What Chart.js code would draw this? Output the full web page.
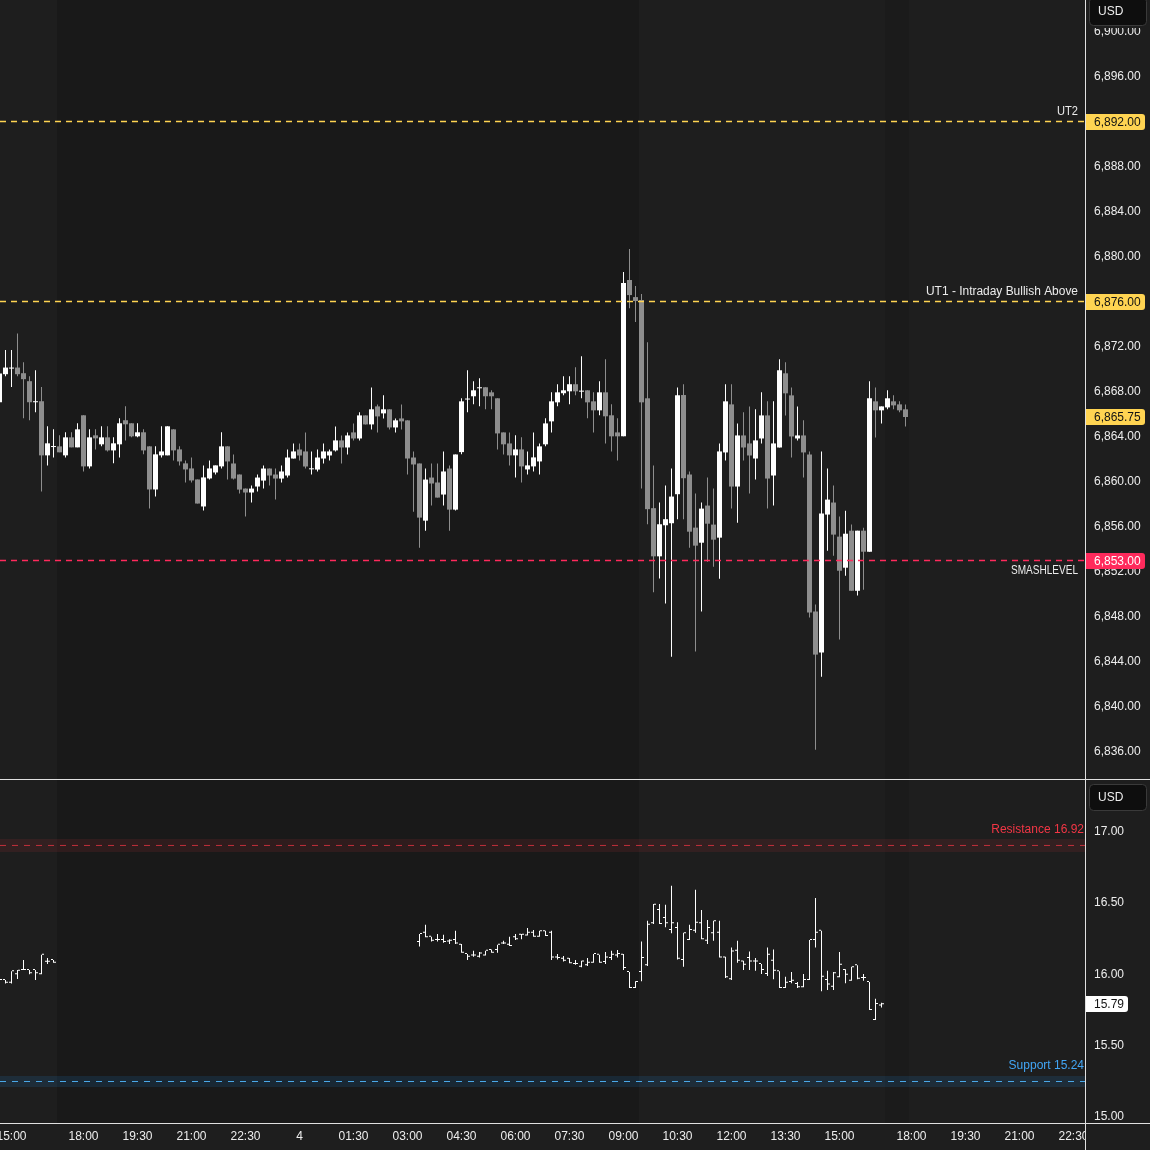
<!DOCTYPE html>
<html>
<head>
<meta charset="utf-8">
<title>ES 10m / VIX</title>
<script src="https://cdn.jsdelivr.net/npm/chart.js@4.4.1/dist/chart.umd.min.js"></script>
<style>
  html, body { margin:0; padding:0; background:#191919; overflow:hidden; }
  #wrap { position:relative; width:1150px; height:1150px; }
  canvas { position:absolute; left:0; display:block; }
  #priceCanvas { top:0; }
  #vixCanvas { top:779px; }
</style>
</head>
<body>
<div id="wrap">
  <canvas id="priceCanvas" width="1150" height="779"></canvas>
  <canvas id="vixCanvas" width="1150" height="371"></canvas>
</div>
<script>
// ======================= DATA =======================
// 10-minute bars. Slot 0 = 15:00 (day 3); the 17:00-18:00 halt is skipped.
const esStartSlot = -2;
const esOpen = [
  6867.06, 6869.55, 6870.05, 6870.14, 6869.64, 6868.93, 6867.06, 6867.15, 6862.34, 6863.08,
  6863.14, 6862.34, 6863.94, 6863.05, 6865.90, 6861.36, 6864.12, 6863.32, 6863.94, 6862.78,
  6863.32, 6865.46, 6865.19, 6864.03, 6864.39, 6863.14, 6859.31, 6862.34, 6862.34, 6864.65,
  6862.87, 6861.63, 6861.18, 6860.20, 6857.80, 6860.29, 6860.82, 6861.36, 6863.14, 6861.62,
  6860.64, 6859.39, 6859.04, 6859.57, 6860.10, 6861.17, 6860.64, 6860.28, 6860.55, 6862.06,
  6862.86, 6862.69, 6861.10, 6861.08, 6862.06, 6862.33, 6862.78, 6863.67, 6863.04, 6864.38,
  6863.84, 6865.89, 6865.09, 6866.69, 6866.07, 6866.43, 6864.82, 6865.62, 6865.45, 6862.15,
  6861.62, 6856.54, 6860.37, 6859.93, 6858.86, 6861.17, 6857.52, 6862.63, 6867.30, 6867.59,
  6868.30, 6868.39, 6867.94, 6867.41, 6864.38, 6863.40, 6862.34, 6862.87, 6861.09, 6861.36,
  6861.80, 6863.32, 6865.36, 6867.05, 6867.86, 6868.03, 6868.66, 6868.00, 6868.12, 6867.14,
  6866.34, 6867.94, 6865.90, 6864.38, 6864.03, 6877.92, 6876.40, 6876.14, 6867.41, 6857.65,
  6853.37, 6856.13, 6856.31, 6858.89, 6867.70, 6860.64, 6855.92, 6854.58, 6857.88, 6856.19,
  6855.03, 6862.60, 6866.87, 6859.57, 6864.11, 6863.40, 6862.06, 6863.84, 6865.89, 6860.55,
  6863.04, 6869.63, 6867.67, 6863.84, 6864.11, 6862.42, 6848.47, 6844.82, 6857.08, 6858.15,
  6855.12, 6852.36, 6855.65, 6850.31, 6855.65, 6853.78, 6867.14, 6866.34, 6866.60, 6867.14,
  6866.87, 6866.43
];
const esHigh = [
  6870.50, 6871.69, 6871.69, 6873.17, 6870.62, 6869.37, 6869.91, 6868.42, 6864.92, 6864.65,
  6864.12, 6864.39, 6864.39, 6865.19, 6865.90, 6864.65, 6864.65, 6864.92, 6864.92, 6863.94,
  6865.63, 6866.70, 6865.19, 6865.19, 6864.65, 6863.14, 6863.14, 6864.92, 6864.92, 6864.65,
  6863.14, 6861.89, 6862.16, 6860.20, 6861.45, 6861.89, 6861.45, 6864.39, 6863.14, 6862.42,
  6860.64, 6859.39, 6859.66, 6860.64, 6861.44, 6861.17, 6861.17, 6861.44, 6862.86, 6863.40,
  6863.40, 6864.38, 6862.69, 6862.86, 6863.40, 6862.86, 6864.91, 6864.11, 6864.38, 6865.18,
  6866.16, 6865.89, 6868.38, 6866.87, 6867.67, 6866.43, 6865.62, 6866.87, 6865.45, 6862.69,
  6861.62, 6861.17, 6861.62, 6861.62, 6862.69, 6861.44, 6862.42, 6867.41, 6869.90, 6868.92,
  6869.19, 6868.39, 6868.12, 6867.41, 6864.38, 6864.38, 6864.12, 6863.94, 6862.69, 6864.38,
  6863.40, 6865.63, 6867.94, 6868.66, 6869.37, 6869.37, 6870.17, 6871.15, 6868.12, 6867.94,
  6868.92, 6870.88, 6866.88, 6865.63, 6878.63, 6880.68, 6877.38, 6876.67, 6872.40, 6861.45,
  6858.15, 6859.66, 6861.18, 6868.38, 6868.65, 6860.91, 6858.95, 6858.15, 6860.37, 6859.39,
  6863.40, 6868.65, 6868.65, 6865.18, 6866.16, 6866.69, 6866.43, 6867.94, 6867.14, 6867.14,
  6870.88, 6870.61, 6868.38, 6866.69, 6865.45, 6862.69, 6849.09, 6862.69, 6861.17, 6859.66,
  6856.90, 6857.43, 6856.19, 6855.65, 6855.92, 6868.92, 6868.38, 6866.69, 6868.12, 6867.67,
  6867.14, 6866.87
];
const esLow = [
  6866.50, 6869.37, 6868.42, 6869.37, 6865.63, 6865.46, 6866.17, 6859.13, 6861.45, 6862.16,
  6862.61, 6862.16, 6863.05, 6863.05, 6860.91, 6861.18, 6862.87, 6863.14, 6862.69, 6861.63,
  6862.16, 6863.67, 6863.94, 6863.94, 6862.43, 6857.62, 6858.69, 6862.16, 6862.34, 6861.89,
  6861.45, 6859.93, 6859.93, 6858.06, 6857.44, 6860.20, 6860.65, 6861.18, 6860.20, 6860.19,
  6858.95, 6856.90, 6858.15, 6859.13, 6859.39, 6859.66, 6858.41, 6859.93, 6860.37, 6862.06,
  6861.88, 6861.17, 6860.64, 6860.91, 6861.62, 6861.88, 6862.69, 6861.62, 6862.42, 6863.67,
  6863.67, 6865.09, 6864.64, 6864.38, 6865.62, 6864.64, 6864.38, 6864.64, 6860.64, 6857.34,
  6854.14, 6855.65, 6857.88, 6858.59, 6857.88, 6855.65, 6857.45, 6862.45, 6866.16, 6866.88,
  6866.70, 6866.43, 6866.43, 6862.87, 6862.42, 6861.45, 6860.38, 6859.93, 6860.64, 6860.91,
  6860.64, 6863.14, 6864.38, 6866.70, 6867.68, 6866.88, 6867.68, 6867.41, 6865.63, 6864.38,
  6865.90, 6863.40, 6862.69, 6861.89, 6864.03, 6875.42, 6874.18, 6859.40, 6856.22, 6850.17,
  6851.41, 6849.19, 6844.44, 6856.66, 6856.66, 6854.14, 6844.91, 6848.47, 6852.89, 6852.45,
  6851.38, 6861.88, 6857.61, 6856.36, 6861.88, 6858.95, 6860.19, 6863.40, 6857.61, 6857.88,
  6863.04, 6865.89, 6862.15, 6863.67, 6860.37, 6847.93, 6836.18, 6842.68, 6853.87, 6853.43,
  6845.98, 6851.65, 6850.31, 6849.89, 6850.40, 6853.78, 6863.93, 6865.18, 6866.43, 6866.43,
  6866.16, 6864.91
];
const esClose = [
  6869.61, 6870.14, 6870.14, 6869.55, 6869.11, 6867.06, 6867.10, 6862.34, 6863.41, 6863.11,
  6862.61, 6863.94, 6863.05, 6864.65, 6861.36, 6863.94, 6863.85, 6863.94, 6862.78, 6863.41,
  6865.19, 6865.10, 6864.03, 6864.39, 6862.78, 6859.31, 6862.43, 6862.69, 6864.92, 6862.78,
  6861.80, 6861.09, 6860.11, 6858.06, 6860.38, 6861.18, 6861.45, 6863.14, 6861.80, 6860.28,
  6859.30, 6859.04, 6859.39, 6860.37, 6861.17, 6860.55, 6860.28, 6860.91, 6862.15, 6862.69,
  6862.33, 6861.35, 6861.14, 6862.15, 6862.69, 6862.69, 6863.67, 6863.04, 6864.11, 6863.84,
  6865.89, 6865.09, 6866.43, 6865.80, 6866.43, 6864.82, 6865.45, 6865.36, 6862.06, 6861.53,
  6856.81, 6860.19, 6859.84, 6858.59, 6860.91, 6857.52, 6862.42, 6867.14, 6867.38, 6868.12,
  6868.39, 6867.59, 6867.59, 6864.29, 6863.32, 6862.34, 6862.87, 6861.36, 6861.45, 6862.16,
  6863.14, 6865.18, 6867.14, 6867.94, 6868.12, 6868.66, 6868.03, 6868.09, 6867.05, 6866.34,
  6867.94, 6865.81, 6864.03, 6864.03, 6877.65, 6876.58, 6876.05, 6867.05, 6857.56, 6853.37,
  6856.22, 6856.67, 6858.68, 6867.68, 6860.31, 6855.56, 6854.32, 6857.61, 6856.27, 6854.85,
  6862.69, 6867.14, 6859.57, 6864.11, 6863.04, 6862.33, 6863.67, 6865.89, 6860.28, 6863.40,
  6869.90, 6867.85, 6864.02, 6864.11, 6862.60, 6848.38, 6844.64, 6857.17, 6858.41, 6855.30,
  6852.09, 6855.38, 6850.31, 6855.65, 6853.78, 6867.41, 6866.34, 6866.69, 6867.41, 6866.78,
  6866.34, 6865.75
];

// VIX-style index, two trading sessions
const vixEveningStart = -2;
const vixEveningOpen  = [15.95, 15.96, 15.94, 16.00, 16.03, 16.03, 16.03, 16.00, 16.088, 16.099];
const vixEveningHigh  = [15.96, 15.96, 16.02, 16.03, 16.10, 16.03, 16.03, 16.137, 16.113, 16.099];
const vixEveningLow   = [15.94, 15.935, 15.935, 15.966, 16.03, 16.00, 15.96, 16.00, 16.071, 16.08];
const vixEveningClose = [15.96, 15.94, 16.02, 16.025, 16.03, 16.006, 16.006, 16.137, 16.088, 16.08];

const vixNightStart = 68;
const vixNightOpen = [
  16.226, 16.291, 16.263, 16.240, 16.240, 16.230, 16.240, 16.207, 16.142, 16.132,
  16.123, 16.132, 16.170, 16.170, 16.216, 16.207, 16.259, 16.277, 16.272, 16.291,
  16.263, 16.301, 16.291, 16.118, 16.109, 16.109, 16.071, 16.053, 16.062, 16.081,
  16.137, 16.085, 16.114, 16.132, 16.137, 16.015, 15.903, 16.015, 16.062, 16.357,
  16.450, 16.394, 16.310, 16.324, 16.100, 16.240, 16.305, 16.357, 16.235, 16.287,
  16.291, 16.118, 15.964, 16.165, 16.090, 16.114, 16.090, 16.071, 16.001, 16.095,
  16.020, 15.903, 15.945, 15.931, 15.908, 15.959, 16.240, 16.305, 15.959, 15.912,
  15.978, 16.029, 15.954, 16.062, 15.973, 15.945, 15.678, 15.781
];
const vixNightHigh = [
  16.282, 16.347, 16.263, 16.282, 16.277, 16.245, 16.305, 16.212, 16.142, 16.165,
  16.156, 16.165, 16.174, 16.207, 16.235, 16.263, 16.282, 16.282, 16.324, 16.310,
  16.305, 16.305, 16.305, 16.142, 16.128, 16.114, 16.100, 16.095, 16.114, 16.142,
  16.137, 16.156, 16.165, 16.170, 16.142, 16.015, 15.950, 16.230, 16.375, 16.492,
  16.492, 16.488, 16.621, 16.364, 16.291, 16.347, 16.593, 16.450, 16.380, 16.375,
  16.375, 16.123, 16.188, 16.235, 16.095, 16.160, 16.114, 16.071, 16.188, 16.174,
  16.020, 15.982, 16.015, 15.945, 16.001, 16.240, 16.535, 16.305, 16.025, 16.015,
  16.156, 16.034, 16.053, 16.062, 16.001, 15.945, 15.828, 15.800
];
const vixNightLow = [
  16.195, 16.259, 16.230, 16.230, 16.221, 16.212, 16.212, 16.151, 16.100, 16.123,
  16.118, 16.132, 16.151, 16.151, 16.212, 16.198, 16.240, 16.245, 16.272, 16.263,
  16.263, 16.268, 16.100, 16.104, 16.090, 16.076, 16.067, 16.048, 16.057, 16.081,
  16.081, 16.071, 16.100, 16.118, 16.029, 15.903, 15.903, 15.950, 16.057, 16.352,
  16.352, 16.329, 16.287, 16.104, 16.053, 16.240, 16.291, 16.245, 16.212, 16.235,
  16.118, 15.973, 15.959, 16.081, 16.029, 16.029, 16.025, 16.001, 15.987, 15.964,
  15.903, 15.903, 15.936, 15.903, 15.908, 15.959, 16.188, 15.880, 15.889, 15.889,
  15.978, 15.936, 15.954, 15.964, 15.954, 15.749, 15.678, 15.767
];
const vixNightClose = [
  16.282, 16.259, 16.235, 16.240, 16.226, 16.235, 16.216, 16.151, 16.123, 16.132,
  16.146, 16.165, 16.151, 16.207, 16.216, 16.198, 16.245, 16.277, 16.291, 16.263,
  16.301, 16.268, 16.118, 16.114, 16.095, 16.076, 16.071, 16.090, 16.081, 16.142,
  16.081, 16.118, 16.137, 16.142, 16.043, 15.903, 15.945, 16.114, 16.347, 16.488,
  16.352, 16.357, 16.357, 16.109, 16.287, 16.310, 16.361, 16.245, 16.324, 16.371,
  16.118, 15.978, 16.160, 16.095, 16.067, 16.090, 16.090, 16.029, 16.137, 16.025,
  15.903, 15.940, 15.954, 15.908, 15.959, 16.240, 16.291, 15.982, 15.927, 16.006,
  16.067, 15.997, 16.048, 15.968, 15.973, 15.749, 15.791, 15.790
];

// Axis ticks
const timeTickSlots  = [0, 12, 21, 30, 39, 48, 57, 66, 75, 84, 93, 102, 111, 120, 129, 138, 150, 159, 168, 177];
const timeTickLabels = ['15:00','18:00','19:30','21:00','22:30','4','01:30','03:00','04:30','06:00','07:30','09:00','10:30','12:00','13:30','15:00','18:00','19:30','21:00','22:30'];
const priceTicks = [6836, 6840, 6844, 6848, 6852, 6856, 6860, 6864, 6868, 6872, 6876, 6880, 6884, 6888, 6892, 6896, 6900];
const vixTicks = [15.0, 15.5, 16.0, 16.5, 17.0];

// Levels
const esLevelValues = [6892, 6876, 6853];
const esLevelNames  = ['UT2', 'UT1 - Intraday Bullish Above', 'SMASHLEVEL'];
const esLastPrice = 6865.75;
const vixLast = 15.79;
const vixResistance = 16.92;
const vixResistanceZone = [16.861, 16.946];
const vixSupport = 15.24;
const vixSupportZone = [15.207, 15.287];

// Session edges (slot units): prior RTH | ETH | RTH | post | future
const sessionEdges = [7.5, 104.5, 145.5, 149.5];
const sessionKinds = ['rth', 'eth', 'rth', 'post', 'future'];

// ======================= STYLE =======================
const FONT = '"Liberation Sans", Arial, sans-serif';
Chart.defaults.font.family = FONT;
Chart.defaults.font.size = 12;
const COL = {
  eth: '#191919', rth: '#1e1e1e', post: '#1b1b1b', future: '#1e1e1e',
  axisBg: '#1e1e1e', tick: '#ededed', frame: '#e0e0e0',
  up: '#ffffff', down: '#8e8e8e', ohlc: '#ffffff',
  yellow: '#ffd452', red: '#ff2a5c', levelText: '#ececec', boxText: '#131313',
  resText: '#f23645', resLine: 'rgba(242,54,69,0.75)', resBand: 'rgba(242,54,69,0.10)',
  supText: '#42a5f5', supLine: '#4aa8e8', supBand: 'rgba(33,150,243,0.13)',
  usdBg: '#0e0e0e', usdBorder: '#3a3a3a'
};
const levelColors = [COL.yellow, COL.yellow, COL.red];
const levelTextMaxWidth = [21, 152, 67];
const X_MIN = -11.5 / 6, X_MAX = (1085 - 11.5) / 6;
const PRICE_MIN = 6833.589, PRICE_MAX = 6902.794;
const VIX_MIN = 14.9558, VIX_MAX = 17.3628;
const AXIS_X = 1085, AXIS_W = 65;

// ======================= HELPERS =======================
const fmtPrice = v => v.toLocaleString('en-US', {minimumFractionDigits: 2, maximumFractionDigits: 2});
const fmtVix = v => v.toFixed(2);

function hLine(v, color, dash, width) {
  return {type: 'line', data: [{x: X_MIN, y: v}, {x: X_MAX, y: v}], borderColor: color,
          borderWidth: width, borderDash: dash, pointRadius: 0, fill: false, tension: 0, order: 0};
}

function paintSessions(chart) {
  const {ctx, chartArea: a, scales: {x}} = chart;
  const edges = [X_MIN, ...sessionEdges, X_MAX];
  for (let i = 0; i < sessionKinds.length; i++) {
    const x0 = Math.round(x.getPixelForValue(edges[i]));
    const x1 = Math.round(x.getPixelForValue(edges[i + 1]));
    ctx.fillStyle = COL[sessionKinds[i]];
    ctx.fillRect(x0, a.top, x1 - x0, a.bottom - a.top);
  }
}

function axisBox(ctx, py, text, bg, fg, w) {
  py = Math.round(py);
  ctx.fillStyle = bg;
  ctx.beginPath();
  ctx.roundRect(AXIS_X, py - 8, w, 16, [0, 3, 3, 0]);
  ctx.fill();
  ctx.fillStyle = fg;
  ctx.textAlign = 'left';
  ctx.textBaseline = 'middle';
  ctx.fillText(text, 1094, py + 0.5);
}

function usdBox(ctx, top, h) {
  ctx.fillStyle = COL.usdBg;
  ctx.strokeStyle = COL.usdBorder;
  ctx.lineWidth = 1;
  ctx.beginPath();
  ctx.roundRect(1089.5, top + 0.5, 57, h, 4);
  ctx.fill();
  ctx.stroke();
  ctx.fillStyle = COL.tick;
  ctx.textAlign = 'left';
  ctx.textBaseline = 'middle';
  ctx.font = '12px ' + FONT;
  ctx.fillText('USD', 1098, top + h / 2 + 1);
}

function baseOptions(yMin, yMax, yTicks, fmt, showX) {
  return {
    animation: false, responsive: false, maintainAspectRatio: false, devicePixelRatio: 1, events: [],
    layout: {padding: {top: showX ? 1 : 0, left: 0, right: 0, bottom: 0}},
    plugins: {legend: {display: false}, tooltip: {enabled: false}},
    scales: {
      x: {
        type: 'linear', min: X_MIN, max: X_MAX, offset: false, display: showX,
        grid: {display: false, drawTicks: false}, border: {display: false},
        afterBuildTicks: s => { s.ticks = timeTickSlots.map(v => ({value: v})); },
        afterFit: s => { s.height = showX ? 27 : 0; s.paddingLeft = 0; s.paddingRight = 0; },
        ticks: {autoSkip: false, maxRotation: 0, minRotation: 0, padding: 6, color: COL.tick,
                font: {size: 12}, callback: (v, i) => timeTickLabels[i]}
      },
      y: {
        type: 'linear', position: 'right', min: yMin, max: yMax,
        grid: {display: false, drawTicks: false}, border: {display: false},
        afterBuildTicks: s => { s.ticks = yTicks.map(v => ({value: v})); },
        afterFit: s => { s.width = AXIS_W; s.paddingTop = 0; s.paddingBottom = 0; },
        ticks: {padding: 9, color: COL.tick, font: {size: 12}, callback: v => fmt(v)}
      }
    }
  };
}

// ======================= PRICE PANE =======================
const esSlots = esOpen.map((_, i) => esStartSlot + i);
const esColors = esOpen.map((o, i) => esClose[i] >= o ? COL.up : COL.down);

const pricePlugin = {
  id: 'pricePane',
  beforeDraw(chart) {
    const {ctx} = chart;
    ctx.save();
    ctx.fillStyle = COL.axisBg;
    ctx.fillRect(0, 0, chart.width, chart.height);
    paintSessions(chart);
    ctx.restore();
  },
  afterDraw(chart) {
    const {ctx, scales: {y}} = chart;
    ctx.save();
    ctx.font = '12px ' + FONT;
    ctx.textBaseline = 'middle';
    ctx.textAlign = 'right';
    ctx.fillStyle = COL.levelText;
    esLevelValues.forEach((v, i) => {
      const py = y.getPixelForValue(v);
      ctx.fillText(esLevelNames[i], 1078, py + (i === 2 ? 10 : -10), levelTextMaxWidth[i]);
    });
    axisBox(ctx, y.getPixelForValue(esLevelValues[0]), fmtPrice(esLevelValues[0]), COL.yellow, COL.boxText, 60);
    axisBox(ctx, y.getPixelForValue(esLevelValues[1]), fmtPrice(esLevelValues[1]), COL.yellow, COL.boxText, 60);
    axisBox(ctx, y.getPixelForValue(esLevelValues[2]), fmtPrice(esLevelValues[2]), COL.red, '#ffffff', 60);
    axisBox(ctx, y.getPixelForValue(esLastPrice), fmtPrice(esLastPrice), COL.yellow, COL.boxText, 60);
    ctx.fillStyle = COL.axisBg;
    ctx.fillRect(AXIS_X + 1, 0, AXIS_W, 28);
    usdBox(ctx, -3, 28);
    ctx.fillStyle = COL.frame;
    ctx.fillRect(AXIS_X, 0, 1, chart.height);
    ctx.restore();
  }
};

new Chart(document.getElementById('priceCanvas'), {
  type: 'bar',
  data: {
    datasets: [
      ...esLevelValues.map((v, i) => hLine(v, levelColors[i], [6, 5], 1.5)),
      {type: 'bar', data: esSlots.map((s, i) => ({x: s, y: [Math.min(esOpen[i], esClose[i]), Math.max(esOpen[i], esClose[i])]})),
       backgroundColor: esColors, barThickness: 5, minBarLength: 1, grouped: false, inflateAmount: 0, borderWidth: 0, order: 1},
      {type: 'bar', data: esSlots.map((s, i) => ({x: s, y: [esLow[i], esHigh[i]]})),
       backgroundColor: esColors, barThickness: 1, minBarLength: 1, grouped: false, inflateAmount: 0, borderWidth: 0, order: 2}
    ]
  },
  options: baseOptions(PRICE_MIN, PRICE_MAX, priceTicks, fmtPrice, false),
  plugins: [pricePlugin]
});

// ======================= VIX PANE =======================
const vixSessions = [
  {start: vixEveningStart, o: vixEveningOpen, h: vixEveningHigh, l: vixEveningLow, c: vixEveningClose},
  {start: vixNightStart, o: vixNightOpen, h: vixNightHigh, l: vixNightLow, c: vixNightClose}
];
const vixBars = vixSessions.flatMap(seg => seg.o.map((o, i) => ({s: seg.start + i, o: o, h: seg.h[i], l: seg.l[i], c: seg.c[i]})));
const mid = z => (z[0] + z[1]) / 2;

const vixPlugin = {
  id: 'vixPane',
  beforeDraw(chart) {
    const {ctx} = chart;
    ctx.save();
    ctx.fillStyle = COL.axisBg;
    ctx.fillRect(0, 0, chart.width, chart.height);
    paintSessions(chart);
    ctx.restore();
  },
  beforeDatasetsDraw(chart) {
    const {ctx, chartArea: a, scales: {y}} = chart;
    ctx.save();
    [[vixResistanceZone, COL.resBand], [vixSupportZone, COL.supBand]].forEach(([z, c]) => {
      const y0 = Math.round(y.getPixelForValue(z[1])), y1 = Math.round(y.getPixelForValue(z[0]));
      ctx.fillStyle = c;
      ctx.fillRect(a.left, y0, a.right - a.left, y1 - y0);
    });
    ctx.restore();
  },
  afterDraw(chart) {
    const {ctx, chartArea: a, scales: {y}} = chart;
    ctx.save();
    ctx.font = '12px ' + FONT;
    ctx.textBaseline = 'middle';
    ctx.textAlign = 'right';
    ctx.fillStyle = COL.resText;
    ctx.fillText('Resistance ' + vixResistance.toFixed(2), 1084, y.getPixelForValue(vixResistanceZone[1]) - 10);
    ctx.fillStyle = COL.supText;
    ctx.fillText('Support ' + vixSupport.toFixed(2), 1084, y.getPixelForValue(vixSupportZone[1]) - 10);
    axisBox(ctx, y.getPixelForValue(vixLast), fmtVix(vixLast), '#ffffff', COL.boxText, 43);
    // x-axis row to the right of the plot
    ctx.fillStyle = COL.axisBg;
    ctx.fillRect(AXIS_X + 1, a.bottom, AXIS_W, chart.height - a.bottom);
    usdBox(ctx, 5, 26);
    ctx.fillStyle = COL.frame;
    ctx.fillRect(0, 0, chart.width, 1);
    ctx.fillRect(0, a.bottom, chart.width, 1);
    ctx.fillRect(AXIS_X, 0, 1, chart.height);
    ctx.restore();
  }
};

new Chart(document.getElementById('vixCanvas'), {
  type: 'bar',
  data: {
    datasets: [
      hLine(mid(vixResistanceZone), COL.resLine, [6, 6], 1),
      hLine(mid(vixSupportZone), COL.supLine, [6, 6], 1),
      {type: 'bar', data: vixBars.map(b => ({x: b.s - 0.25, y: [b.o, b.o]})),
       backgroundColor: COL.ohlc, barThickness: 2, minBarLength: 1, grouped: false, inflateAmount: 0, borderWidth: 0, order: 1},
      {type: 'bar', data: vixBars.map(b => ({x: b.s + 0.25, y: [b.c, b.c]})),
       backgroundColor: COL.ohlc, barThickness: 2, minBarLength: 1, grouped: false, inflateAmount: 0, borderWidth: 0, order: 1},
      {type: 'bar', data: vixBars.map(b => ({x: b.s, y: [b.l, b.h]})),
       backgroundColor: COL.ohlc, barThickness: 1, minBarLength: 1, grouped: false, inflateAmount: 0, borderWidth: 0, order: 2}
    ]
  },
  options: baseOptions(VIX_MIN, VIX_MAX, vixTicks, fmtVix, true),
  plugins: [vixPlugin]
});
</script>
</body>
</html>
